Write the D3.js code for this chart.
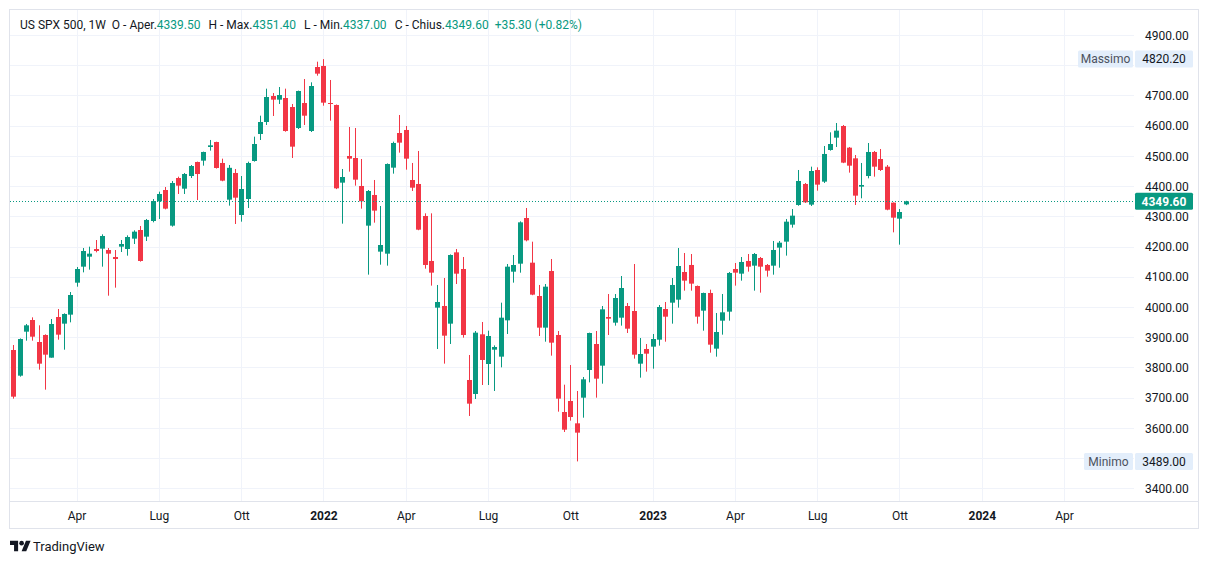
<!DOCTYPE html>
<html>
<head>
<meta charset="utf-8">
<script src="https://cdn.jsdelivr.net/npm/d3@7"></script>
<style>
  html, body { margin: 0; padding: 0; background: #ffffff; }
  svg { display: block; font-family: Roboto, "Noto Sans", sans-serif; }
</style>
</head>
<body>
<svg id="chart" width="1209" height="564"></svg>
<script>
// ---- DATA (weekly candles, US SPX 500, 1W) ----
const firstWeek = "2021-01-25";
const openVals = [3857.6,3772.7,3918.3,3956.9,3884.1,3907.3,3832.3,3966.8,3944.8,3974.6,4080.4,4133.4,4166.5,4191.8,4193.0,4188.5,4165.4,4199.6,4191.9,4226.1,4254.7,4232.7,4284.5,4349.6,4387.1,4269.1,4426.8,4391.5,4433.4,4479.8,4484.2,4529.4,4545.9,4476.5,4355.1,4443.4,4304.4,4357.3,4483.1,4572.4,4612.1,4698.1,4686.0,4691.5,4661.7,4592.2,4675.0,4582.3,4794.1,4797.4,4675.0,4668.4,4411.4,4499.6,4493.0,4400.4,4269.1,4370.6,4183.1,4176.4,4461.0,4575.7,4585.7,4420.2,4407.0,4301.1,4152.2,3997.8,4003.3,3944.8,4180.8,4125.7,3758.4,3712.1,3909.5,3811.3,3858.7,3835.6,3955.8,4116.8,4143.3,4294.4,4146.6,4036.3,3931.6,4119.0,3907.3,3652.5,3688.9,3615.0,3699.9,3791.5,3877.5,3805.8,3966.8,3948.1,3964.6,4003.2,3986.7,3812.4,3861.0,3868.7,3891.8,3993.3,4014.3,4024.2,4115.8,4139.0,4069.5,3987.8,4046.3,3862.1,3954.7,3984.5,4125.7,4110.3,4152.2,4136.7,4162.1,4139.0,4136.7,4196.3,4216.2,4272.4,4337.5,4407.0,4338.6,4453.3,4414.7,4519.5,4560.3,4598.9,4527.2,4491.9,4398.2,4433.4,4512.9,4489.7,4464.3,4345.2,4292.3,4339.5];
const highVals = [3874.2,3896.0,3943.7,3965.7,3939.3,3909.5,3960.2,3993.3,3979.0,4049.5,4132.3,4195.1,4199.6,4221.6,4240.4,4195.1,4188.5,4221.6,4237.1,4253.6,4268.0,4291.2,4357.3,4381.6,4397.0,4416.9,4431.2,4443.4,4469.8,4481.0,4514.0,4552.6,4547.0,4490.8,4469.8,4456.6,4433.4,4480.8,4563.6,4633.0,4722.4,4708.0,4727.9,4722.4,4671.7,4716.0,4754.4,4743.4,4811.7,4820.2,4751.1,4670.0,4456.6,4595.6,4592.3,4489.7,4387.1,4420.2,4334.2,4475.0,4547.1,4635.3,4598.9,4476.5,4516.2,4309.9,4309.9,4072.8,4095.9,4174.0,4191.9,4165.4,3841.1,3920.5,3950.3,3921.6,3873.0,4014.3,4142.2,4172.0,4283.4,4327.5,4216.1,4072.8,4076.0,4158.8,3920.5,3742.9,3808.0,3722.0,3768.3,3915.0,3920.5,4003.2,4042.9,4042.9,4102.5,4013.2,4142.2,3897.3,3877.5,3910.6,4006.5,4016.5,4095.9,4195.2,4178.6,4175.3,4071.0,4047.5,4057.3,3980.1,4043.0,4115.8,4145.5,4165.4,4175.3,4178.6,4165.4,4142.2,4218.4,4218.4,4291.2,4324.2,4453.3,4410.3,4464.3,4462.1,4532.7,4577.9,4608.8,4602.2,4529.4,4502.9,4476.5,4542.6,4516.2,4522.8,4469.8,4346.0,4324.2,4351.4];
const lowVals = [3696.6,3769.4,3888.5,3888.5,3792.6,3726.4,3832.3,3891.8,3858.7,3949.2,4067.2,4114.6,4123.5,4180.8,4133.4,4037.4,4063.9,4181.9,4169.8,4208.4,4150.0,4218.3,4280.1,4291.2,4323.0,4265.8,4373.9,4373.9,4426.8,4354.0,4467.6,4517.3,4458.0,4416.0,4335.3,4274.6,4282.3,4327.5,4481.0,4552.5,4602.2,4632.0,4671.7,4580.0,4493.0,4589.0,4602.2,4579.0,4765.4,4666.0,4616.5,4390.0,4275.7,4447.8,4401.5,4325.4,4107.0,4279.0,4140.0,4136.7,4441.2,4510.7,4454.4,4383.8,4254.0,4126.8,4070.6,3861.0,3812.5,3877.6,4076.0,3898.5,3639.3,3695.5,3741.8,3741.8,3722.0,3800.3,3910.6,4080.5,4113.5,4217.2,4039.0,3904.0,3885.2,3838.9,3653.6,3586.3,3623.8,3489.0,3633.7,3750.6,3699.9,3746.2,3907.3,3938.2,3938.2,3913.9,3829.0,3766.1,3786.0,3795.9,3872.0,3885.2,3944.8,3997.8,4054.0,4054.0,3944.8,3921.6,3848.8,3835.6,3908.4,3954.7,4070.6,4087.1,4116.9,4054.0,4047.4,4100.3,4106.9,4130.0,4169.9,4262.5,4335.0,4344.1,4334.2,4384.9,4410.3,4517.3,4529.4,4476.0,4444.5,4337.5,4359.6,4425.7,4431.2,4450.0,4320.0,4247.0,4206.2,4337.0];
const closeVals = [3703.2,3894.0,3939.3,3901.7,3812.4,3842.2,3943.7,3908.4,3976.8,4039.6,4125.7,4185.2,4176.4,4185.2,4234.9,4176.4,4158.7,4208.4,4231.6,4249.2,4152.2,4287.9,4350.7,4373.9,4325.4,4410.3,4401.5,4440.0,4466.5,4440.0,4512.9,4534.9,4459.9,4418.0,4460.5,4361.7,4390.4,4476.4,4539.3,4612.1,4694.8,4686.0,4701.4,4582.3,4530.5,4714.7,4633.0,4731.2,4772.1,4676.1,4671.7,4392.6,4430.1,4490.8,4421.3,4349.6,4383.8,4318.8,4205.1,4473.2,4542.7,4543.8,4490.8,4394.8,4255.8,4139.0,4113.6,4016.5,3905.1,4172.0,4110.2,3907.3,3680.1,3915.0,3824.6,3904.0,3867.6,3964.6,4133.4,4138.9,4280.1,4220.5,4040.8,3931.6,4067.2,3881.9,3696.6,3594.0,3635.9,3584.1,3760.6,3913.9,3762.8,3992.2,3961.3,4029.7,4062.8,3928.2,3842.2,3844.4,3845.5,3894.0,3999.9,3967.9,4072.8,4135.6,4087.1,4077.2,3968.0,4046.3,3875.3,3917.2,3982.3,4112.5,4113.6,4148.9,4133.4,4175.3,4133.4,4120.2,4188.6,4212.8,4282.3,4302.2,4416.9,4346.3,4450.0,4404.8,4506.3,4539.3,4583.5,4477.6,4467.6,4368.4,4403.7,4512.9,4464.3,4453.3,4322.0,4295.6,4314.3,4349.6];

const priceTicks = [3400,3500,3600,3700,3800,3900,4000,4100,4200,4300,4400,4500,4600,4700,4800,4900];
// labels hidden behind the high / low markers on the price scale
const hiddenPriceLabels = [3500, 4800];
const timeTickDates = ["2021-04-05","2021-07-05","2021-10-04","2022-01-03","2022-04-04","2022-07-04","2022-10-03","2023-01-02","2023-04-03","2023-07-03","2023-10-02","2024-01-01","2024-04-01"];
const timeTickLabels = ["Apr","Lug","Ott","2022","Apr","Lug","Ott","2023","Apr","Lug","Ott","2024","Apr"];
const yearLabels = ["2022","2023","2024"];

const header = { symbol: "US SPX 500, 1W", open: "4339.50", high: "4351.40", low: "4337.00", close: "4349.60", change: "+35.30 (+0.82%)" };
const lastPrice = 4349.60;
const maxPrice = 4820.20;
const minPrice = 3489.00;

// ---- COLORS / LAYOUT ----
const UP = "#089981", DOWN = "#F23645", TEXT = "#131722", GRID = "#f0f3fa", BORDER = "#e0e3eb";
const plot = { left: 10, right: 1134, top: 10, bottom: 501 };

const parse = d3.utcParse("%Y-%m-%d");
const start = parse(firstWeek);
const dates = d3.range(openVals.length).map(i => d3.utcDay.offset(start, i * 7));
const candles = dates.map((d, i) => ({ date: d, o: openVals[i], h: highVals[i], l: lowVals[i], c: closeVals[i] }));

const x = d3.scaleUtc().domain([dates[0], dates[dates.length - 1]]).range([13.3, 905.8]);
const y = d3.scaleLinear().domain([3400, 4900]).range([488.3, 35]);

const svg = d3.select("#chart");

// outer frame
svg.append("rect").attr("x", 9.5).attr("y", 9.5).attr("width", 1189).attr("height", 519)
  .attr("fill", "#fff").attr("stroke", BORDER).attr("stroke-width", 1);

// horizontal grid
svg.append("g").selectAll("line").data(priceTicks).join("line")
  .attr("x1", plot.left).attr("x2", plot.right)
  .attr("y1", d => Math.round(y(d)) + 0.5).attr("y2", d => Math.round(y(d)) + 0.5)
  .attr("stroke", GRID).attr("stroke-width", 1);

// vertical grid
const tickDates = timeTickDates.map(parse);
svg.append("g").selectAll("line").data(tickDates).join("line")
  .attr("x1", d => Math.round(x(d)) + 0.5).attr("x2", d => Math.round(x(d)) + 0.5)
  .attr("y1", plot.top).attr("y2", plot.bottom)
  .attr("stroke", GRID).attr("stroke-width", 1);

// plot bottom border
svg.append("line").attr("x1", 10).attr("x2", 1198).attr("y1", plot.bottom + 0.5).attr("y2", plot.bottom + 0.5)
  .attr("stroke", BORDER);

// candles
const bw = 5;
const cg = svg.append("g");
cg.selectAll("line.wick").data(candles).join("line").attr("class", "wick")
  .attr("x1", d => Math.round(x(d.date)) + 0.5).attr("x2", d => Math.round(x(d.date)) + 0.5)
  .attr("y1", d => y(d.h)).attr("y2", d => y(d.l))
  .attr("stroke", d => d.c >= d.o ? UP : DOWN).attr("stroke-width", 1);
cg.selectAll("rect.body").data(candles).join("rect").attr("class", "body")
  .attr("x", d => Math.round(x(d.date)) - 2)
  .attr("width", bw)
  .attr("y", d => y(Math.max(d.o, d.c)))
  .attr("height", d => Math.max(1, Math.abs(y(d.o) - y(d.c))))
  .attr("fill", d => d.c >= d.o ? UP : DOWN);

// last price dotted line
svg.append("line").attr("x1", plot.left).attr("x2", plot.right)
  .attr("y1", Math.round(y(lastPrice)) + 0.5).attr("y2", Math.round(y(lastPrice)) + 0.5)
  .attr("stroke", UP).attr("stroke-width", 1).attr("stroke-dasharray", "1 2");

// price axis labels
const yAxis = d3.axisRight(y).tickValues(priceTicks.filter(v => !hiddenPriceLabels.includes(v)))
  .tickFormat(d3.format(".2f")).tickSize(0).tickPadding(0);
const ya = svg.append("g").attr("transform", "translate(1145,0)").call(yAxis);
ya.select(".domain").remove();
ya.selectAll("text").attr("fill", TEXT).attr("font-size", 12).attr("font-family", "Roboto, sans-serif").attr("dy", "0.35em");

// time axis labels
const xAxis = d3.axisBottom(x).tickValues(tickDates).tickFormat((d, i) => timeTickLabels[i]).tickSize(0).tickPadding(0);
const xa = svg.append("g").attr("transform", "translate(0,516)").call(xAxis);
xa.select(".domain").remove();
xa.selectAll("text").attr("fill", TEXT).attr("font-size", 12).attr("font-family", "Roboto, sans-serif")
  .attr("dy", "0.35em")
  .attr("font-weight", (d, i) => yearLabels.includes(timeTickLabels[i]) ? "bold" : "normal");

// last price label
const lpY = y(lastPrice);
svg.append("rect").attr("x", 1135).attr("y", lpY - 8.5).attr("width", 58).attr("height", 17).attr("rx", 1.5).attr("fill", UP);
svg.append("text").attr("x", 1164).attr("y", lpY).attr("dy", "0.35em").attr("text-anchor", "middle")
  .attr("fill", "#fff").attr("font-size", 12).attr("font-weight", "bold").text(d3.format(".2f")(lastPrice));

// high / low labels
function hlLabel(val, name, labelX) {
  const yy = y(val);
  svg.append("rect").attr("x", labelX).attr("y", yy - 8.5).attr("width", 1133 - labelX).attr("height", 17).attr("rx", 1.5).attr("fill", "#e3eefb");
  svg.append("text").attr("x", (labelX + 1133) / 2).attr("y", yy).attr("dy", "0.35em").attr("text-anchor", "middle")
    .attr("fill", "#4c525e").attr("font-size", 12).text(name);
  svg.append("rect").attr("x", 1135).attr("y", yy - 8.5).attr("width", 58).attr("height", 17).attr("rx", 1.5).attr("fill", "#e3eefb");
  svg.append("text").attr("x", 1164).attr("y", yy).attr("dy", "0.35em").attr("text-anchor", "middle")
    .attr("fill", TEXT).attr("font-size", 12).text(d3.format(".2f")(val));
}
hlLabel(maxPrice, "Massimo", 1078);
hlLabel(minPrice, "Minimo", 1084);

// header legend
const ht = svg.append("text").attr("x", 20).attr("y", 25).attr("dy", "0.35em").attr("font-size", 12).attr("fill", TEXT);
ht.append("tspan").text(header.symbol);
ht.append("tspan").attr("dx", 6).text("O - Aper.");
ht.append("tspan").attr("fill", UP).text(header.open);
ht.append("tspan").attr("dx", 8).text("H - Max.");
ht.append("tspan").attr("fill", UP).text(header.high);
ht.append("tspan").attr("dx", 8).text("L - Min.");
ht.append("tspan").attr("fill", UP).text(header.low);
ht.append("tspan").attr("dx", 8).text("C - Chius.");
ht.append("tspan").attr("fill", UP).text(header.close);
ht.append("tspan").attr("dx", 6).attr("fill", UP).text(header.change);

// TradingView logo
const logo = svg.append("g").attr("transform", "translate(10,538.5) scale(0.58)").attr("fill", TEXT);
logo.append("path").attr("d", "M14 22H7V11H0V4h14v18zM28 22h-8l7.5-18h8L28 22z");
logo.append("circle").attr("cx", 20).attr("cy", 8).attr("r", 4);
svg.append("text").attr("x", 33).attr("y", 546).attr("dy", "0.35em").attr("font-size", 13).attr("fill", TEXT).text("TradingView");
</script>
</body>
</html>
